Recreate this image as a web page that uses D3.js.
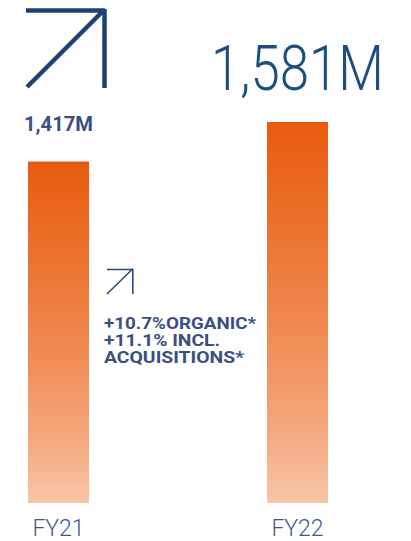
<!DOCTYPE html>
<html lang="en">
<head>
<meta charset="utf-8">
<title>Revenue FY21 vs FY22</title>
<script src="https://d3js.org/d3.v7.min.js"></script>
<style>
  body { margin: 0; background: #fff; }
  text { font-family: Roboto, "Open Sans", sans-serif; }
</style>
</head>
<body>
<svg width="411" height="541"></svg>
<script>
// data
const years = ["FY21", "FY22"];
const revenue = [1417, 1581];
const valueLabels = ["1,417M", "1,581M"];
const growthLines = ["+10.7%ORGANIC*", "+11.1% INCL.", "ACQUISITIONS*"];

const svg = d3.select("svg");
const barW = 61;

const x = d3.scalePoint().domain(years).range([58.5, 297.5]);
const y = d3.scaleLinear().domain([0, 1581]).range([503, 122]);

// gradient for the bars
const grad = svg.append("defs").append("linearGradient")
  .attr("id", "barGrad")
  .attr("x1", 0).attr("y1", 0).attr("x2", 0).attr("y2", 1);
grad.append("stop").attr("offset", "0%").attr("stop-color", "#e85a0e");
grad.append("stop").attr("offset", "30%").attr("stop-color", "#ec7430");
grad.append("stop").attr("offset", "55%").attr("stop-color", "#f08a52");
grad.append("stop").attr("offset", "80%").attr("stop-color", "#f4a67c");
grad.append("stop").attr("offset", "100%").attr("stop-color", "#f7c6a8");

// bars
svg.selectAll("rect.bar")
  .data(years)
  .enter()
  .append("rect")
  .attr("class", "bar")
  .attr("x", d => x(d) - barW / 2)
  .attr("y", (d, i) => y(revenue[i]))
  .attr("width", barW)
  .attr("height", (d, i) => y(0) - y(revenue[i]))
  .attr("fill", "url(#barGrad)");

// category labels
svg.selectAll("text.cat")
  .data(years)
  .enter()
  .append("text")
  .attr("class", "cat")
  .attr("x", d => x(d))
  .attr("y", 536)
  .attr("text-anchor", "middle")
  .attr("fill", "#3a5a8c")
  .style("font-size", "23px")
  .style("font-weight", 300)
  .text(d => d);

// value labels: small bold for FY21, big light for FY22
svg.selectAll("text.val")
  .data(years)
  .enter()
  .append("text")
  .attr("class", "val")
  .attr("x", d => x(d))
  .attr("y", (d, i) => i === 0 ? y(revenue[i]) - 31 : 90)
  .attr("text-anchor", "middle")
  .attr("fill", (d, i) => i === 0 ? "#3b4f80" : "#1c4e80")
  .style("font-size", (d, i) => i === 0 ? "21px" : "63px")
  .style("font-weight", (d, i) => i === 0 ? 700 : 300)
  .attr("textLength", (d, i) => i === 0 ? 69 : 173)
  .attr("lengthAdjust", "spacingAndGlyphs")
  .text((d, i) => valueLabels[i]);

// big arrow
svg.append("path")
  .attr("d", "M27,87L103,11M26,10.5H105M104.5,9V88")
  .attr("fill", "none")
  .attr("stroke", "#1f4274")
  .attr("stroke-width", 4.5);

// small arrow
svg.append("path")
  .attr("d", "M107,294L132.5,269M107,269.5H133.5M132.8,268.5V294")
  .attr("fill", "none")
  .attr("stroke", "#2b4a7c")
  .attr("stroke-width", 1.6);

// growth note
const lens = [152, 116, 140];
svg.selectAll("text.note")
  .data(growthLines)
  .enter()
  .append("text")
  .attr("class", "note")
  .attr("x", 104)
  .attr("y", (d, i) => 329 + i * 17)
  .attr("fill", "#3b4f80")
  .style("font-size", "17px")
  .style("font-weight", 700)
  .attr("textLength", (d, i) => lens[i])
  .attr("lengthAdjust", "spacingAndGlyphs")
  .text(d => d);
</script>
</body>
</html>
